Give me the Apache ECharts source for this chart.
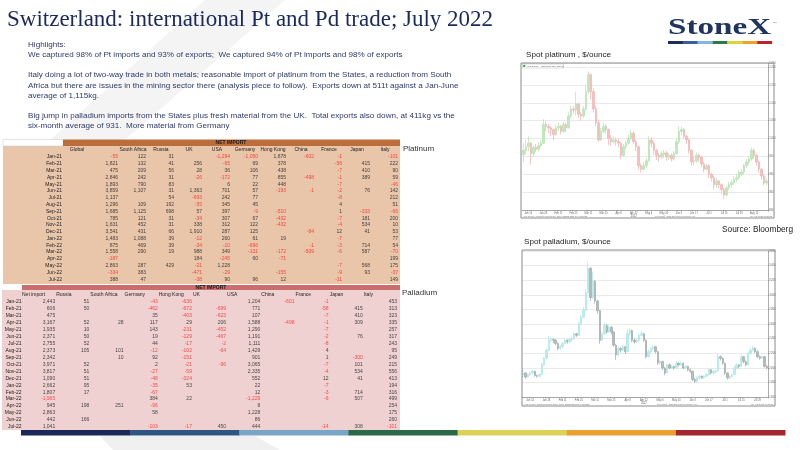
<!DOCTYPE html>
<html><head><meta charset="utf-8">
<script src="https://cdn.jsdelivr.net/npm/echarts@6/dist/echarts.min.js"></script>
<style>html,body{margin:0;padding:0;background:#fff}#c{width:800px;height:450px}</style>
</head><body><div id="c"></div>
<script>
// ---------- table data ----------
const months = ['Jan-21','Feb-21','Mar-21','Apr-21','May-21','Jun-21','Jul-21','Aug-21','Sep-21','Oct-21','Nov-21','Dec-21','Jan-22','Feb-22','Mar-22','Apr-22','May-22','Jun-22','Jul-22'];

// Platinum net import by partner (kg)
const ptHeaders = ['Global','South Africa','Russia','UK','USA','Germany','Hong Kong','China','France','Japan','Italy'];
const ptGlobal      = [-55,1821,475,2846,1893,3859,1137,1296,1685,785,1631,3541,1483,875,1558,-187,2863,-334,388];
const ptSouthAfrica = [122,132,209,242,790,1107,null,109,1125,121,452,431,1088,469,290,null,287,383,47];
const ptRussia      = [31,41,56,31,83,31,54,192,698,31,31,66,39,39,19,null,429,null,null];
const ptUK          = [null,256,28,-26,null,1363,-693,-55,57,-34,338,1910,-12,-34,988,184,-21,-471,-38];
const ptUSA         = [-1294,-65,36,-172,6,701,242,345,397,307,312,287,260,-10,349,-245,1228,-29,90];
const ptGermany     = [-1050,69,106,77,22,57,77,45,-9,67,122,125,61,-696,-131,60,null,null,96];
const ptHongKong    = [1878,378,438,855,448,-193,null,null,-510,-432,-432,null,19,null,-172,-71,null,-155,12];
const ptChina       = [-602,null,null,-498,null,-1,null,null,null,null,null,-84,null,-1,-509,null,null,null,null];
const ptFrance      = [-1,-58,-7,-1,-7,-2,-8,4,1,-7,-4,12,-7,-3,-6,null,-7,-9,-11];
const ptJapan       = [null,415,410,389,null,76,null,null,-333,181,534,41,null,714,587,null,568,93,null];
const ptItaly       = [-101,222,90,59,-46,142,212,51,-66,200,10,53,77,54,-70,199,175,-37,149];

// Palladium net import by partner (kg)
const pdHeaders = ['Net import','Russia','South Africa','Germany','Hong Kong','UK','USA','China','France','Japan','Italy'];
const pdNetImport   = [2443,606,475,3167,1935,2371,2755,2373,2342,3971,3817,1090,2662,1807,-1965,945,2863,442,1041];
const pdRussia      = [51,50,null,52,10,50,52,105,null,52,51,51,95,17,null,198,null,166,null];
const pdSouthAfrica = [null,null,null,28,null,null,null,101,10,null,null,null,null,null,null,251,null,null,null];
const pdGermany     = [-43,-462,35,117,143,19,44,-12,92,2,-27,-48,-35,-67,384,-96,58,null,-103];
const pdHongKong    = [-636,-672,-403,29,-231,-129,-17,-102,-151,-21,-59,-324,53,null,22,null,null,null,-17];
const pdUK          = [null,-699,-623,206,-452,-467,-2,-64,null,-96,null,null,null,null,null,null,null,null,450];
const pdUSA         = [1204,771,107,1588,1290,1191,1111,1429,901,3065,2335,552,22,12,-1229,8,1228,86,444];
const pdChina       = [-601,null,null,-498,null,null,null,null,null,null,null,null,null,null,null,null,null,null,null];
const pdFrance      = [-1,-58,-7,-1,-7,-2,-8,4,1,-7,-4,12,-7,-3,-6,null,null,null,-14];
const pdJapan       = [null,415,410,309,null,76,null,null,-300,101,534,41,null,714,507,null,null,null,308];
const pdItaly       = [453,313,323,335,257,317,243,95,249,215,556,413,194,316,499,254,175,260,-101];

// ---------- spot price candles [open, close, low, high] ----------
const ptSpot = [
[955,967,934,987],[967,977,955,996],[977,987,965,1006],[987,958,927,990],[958,975,950,982],[975,970,962,985],[970,980,965,990],[980,987,975,995],
[987,1039,985,1054],[1039,1034,1020,1048],[1034,1030,1015,1040],[1030,1025,1006,1035],[1025,1011,996,1028],[1011,1030,1008,1040],[1030,1034,1022,1045],[1034,1020,1012,1038],
[1020,1039,1016,1046],[1039,1030,1018,1044],[1030,1063,1028,1073],[1063,1083,1058,1092],[1083,1080,1070,1090],[1080,1097,1065,1131],[1097,1068,1058,1100],[1068,1063,1050,1075],
[1063,1083,1058,1092],[1083,1131,1080,1150],[1131,1179,1125,1188],[1179,1131,1110,1182],[1131,1083,1073,1140],[1083,1044,1034,1092],[1044,996,991,1054],[996,1020,994,1030],
[1020,1034,1015,1044],[1034,1025,1015,1040],[1025,1001,982,1028],[1001,991,980,1010],[991,996,985,1006],[996,991,980,1002],[991,987,975,998],[987,953,943,990],
[953,977,950,985],[977,987,970,995],[987,1001,982,1010],[1001,1015,996,1025],[1015,991,985,1020],[991,977,965,996],[977,924,914,980],[924,914,905,930],
[914,924,910,935],[924,938,918,945],[938,996,935,1006],[996,987,975,1004],[987,967,955,992],[967,953,940,972],[953,948,935,960],[948,958,942,965],
[955,960,945,968],[960,948,938,965],[948,953,940,960],[953,943,935,958],[943,958,938,965],[958,991,955,1000],[991,1020,985,1034],[1020,1025,1010,1034],
[1025,1006,1000,1030],[1006,996,985,1010],[996,967,958,1000],[967,934,924,970],[934,938,925,950],[938,953,932,960],[953,948,935,958],[948,929,920,952],
[929,914,905,935],[914,924,910,930],[924,900,890,928],[900,890,880,905],[890,871,857,895],[871,881,862,890],[881,871,860,885],[871,857,845,875],
[857,842,831,862],[842,862,838,868],[862,871,855,880],[871,876,862,885],[876,886,870,895],[886,890,878,900],[890,905,885,912],[900,906,895,915],
[906,924,900,930],[924,934,918,942],[934,943,928,950],[943,967,938,975],[967,953,945,972],[953,934,925,958],[934,914,905,938],[914,895,885,918],
[895,876,868,900],[876,881,870,888]
];
const pdSpot = [
[1900,1929,1860,1997],[1929,1875,1850,1940],[1875,1907,1860,1920],[1907,1929,1895,1945],[1929,1952,1915,1965],[1952,1893,1880,1960],[1893,1884,1865,1905],[1884,1907,1870,1920],
[1907,2041,1900,2080],[2041,2131,2030,2150],[2131,2243,2120,2260],[2243,2378,2230,2440],[2378,2387,2350,2420],[2387,2378,2340,2400],[2378,2333,2310,2390],[2333,2266,2240,2345],
[2266,2288,2250,2310],[2288,2333,2270,2350],[2333,2378,2320,2395],[2378,2355,2330,2390],[2355,2387,2340,2410],[2387,2400,2360,2430],[2400,2467,2390,2490],[2467,2445,2420,2480],
[2445,2602,2440,2630],[2602,2692,2590,2720],[2692,2790,2680,2830],[2790,3028,2780,3080],[3028,3364,3010,3454],[3364,2961,2920,3380],[2961,3185,2940,3319],[3185,2916,2880,3200],
[2916,2781,2740,2930],[2781,2378,2330,2790],[2378,2467,2360,2490],[2467,2579,2450,2620],[2579,2490,2470,2600],[2490,2557,2480,2580],[2557,2490,2460,2570],[2490,2310,2290,2500],
[2310,2176,2110,2330],[2176,2266,2160,2290],[2266,2243,2210,2280],[2243,2288,2230,2310],[2288,2221,2190,2300],[2221,2467,2210,2530],[2467,2512,2440,2540],[2512,2378,2350,2520],
[2378,2355,2330,2400],[2355,2378,2340,2400],[2378,2445,2370,2470],[2445,2467,2430,2500],[2467,2378,2360,2480],[2378,2153,2130,2390],[2153,2221,2140,2250],[2221,2266,2200,2290],
[2266,2288,2240,2310],[2288,2221,2200,2300],[2221,2064,2040,2230],[2064,2086,2040,2110],[2086,1997,1970,2100],[1997,1929,1900,2010],[1929,2041,1920,2060],[2041,1997,1980,2060],
[1997,2019,1985,2040],[2019,1997,1975,2030],[1997,2064,1990,2085],[2064,2041,2020,2075],[2041,2064,2030,2090],[2064,1997,1980,2075],[1997,2019,1990,2040],[2019,1974,1950,2030],
[1974,1952,1930,1990],[1952,1840,1820,1960],[1840,1817,1790,1860],[1817,1862,1805,1880],[1862,1884,1845,1900],[1884,1862,1850,1895],[1862,1884,1850,1900],[1884,1907,1870,1925],
[1907,1974,1895,1990],[1974,1929,1910,1985],[1929,1952,1915,1970],[1945,1958,1930,1975],[1958,2153,1950,2190],[2153,2131,2100,2170],[2131,2064,2040,2140],[2064,1929,1900,2070],
[1929,1862,1840,1940],[1862,1884,1845,1900],[1884,1907,1870,1920],[1907,1997,1900,2020],[1997,2041,1985,2060],[2041,2019,1990,2050],[2019,2153,2010,2180],[2153,2086,2060,2160],
[2086,2041,2020,2100],[2041,2198,2030,2220],[2198,2243,2180,2270],[2243,2266,2220,2300],[2266,2221,2200,2280],[2221,2153,2130,2240],[2153,2131,2110,2170],[2131,2153,2120,2170],
[2153,2019,2000,2160],[2019,1997,1980,2040]
];
const spotTickLabels = ['Jan 14','Jan 28','Feb 11','Feb 25','Mar 11','Mar 25','Apr 8','Apr 22\n2022','May 6','May 20','Jun 3','Jun 17','Jul 1','Jul 15','Jul 29','Aug 12','Aug 26'];

// ---------- helpers ----------
function fmt(v){
  const s = String(Math.abs(v)).replace(/\B(?=(\d{3})+(?!\d))/g, ',');
  return (v < 0 ? '-' : '') + s;
}
function tableData(cols, xShift){
  const out = [];
  cols.forEach((arr, c) => arr.forEach((v, r) => {
    if (v !== null) out.push({ value: [c + xShift, r, v], label: { color: v < 0 ? '#ff2626' : '#1a1a1a' } });
  }));
  return out;
}
const ptCols = [ptGlobal, ptSouthAfrica, ptRussia, ptUK, ptUSA, ptGermany, ptHongKong, ptChina, ptFrance, ptJapan, ptItaly];
const pdCols = [pdNetImport, pdRussia, pdSouthAfrica, pdGermany, pdHongKong, pdUK, pdUSA, pdChina, pdFrance, pdJapan, pdItaly];
// platinum: first column is two slots wide (header in slot 0, values in slot 1)
const ptXCats = [ptHeaders[0], ''].concat(ptHeaders.slice(1));
const pdHeaderCats = pdHeaders.concat(['']);

const PT = { left: 63, top: 153.6, width: 336, height: 129.1 };
const PD = { left: 22, top: 298.5, width: 376, height: 131.8 };
const ptHalf = PT.width / ptXCats.length / 2;
const pdHalf = PD.width / pdHeaders.length / 2;

const FONT = '"Liberation Sans", Arial, sans-serif';
const tableLabel = (half) => ({
  show: true, position: 'inside', align: 'right', verticalAlign: 'middle',
  offset: [half - 1, 0], fontSize: 5, fontFamily: FONT,
  formatter: p => fmt(p.value[2])
});

const barColors = ['#1c2759','#2f5585','#7aa6c6','#2b6a49','#dcd258','#e9a031','#a3282d'];
const logoColors = ['#1d2f54','#3c5ea0','#86b6e0','#2f7a4b','#d9d53e','#f0a227','#b8252f'];

const graphics = [];
// faint watermark shapes
graphics.push({ type: 'polygon', z: 0, shape: { points: [[205,0],[285,0],[125,140],[50,140]] }, style: { fill: '#f4f4f4' } });
graphics.push({ type: 'polygon', z: 0, shape: { points: [[100,436],[255,436],[280,450],[113,450]] }, style: { fill: '#f0f0f0' } });
// table backgrounds
graphics.push({ type: 'rect', z: 1, shape: { x: 3, y: 146, width: 397, height: 138 }, style: { fill: '#e9c5aa' } });
graphics.push({ type: 'rect', z: 1, shape: { x: 3, y: 139.5, width: 60, height: 6.5 }, style: { fill: '#ffffff', stroke: '#c9c9c9', lineWidth: 0.5 } });
graphics.push({ type: 'rect', z: 1, shape: { x: 63, y: 139.5, width: 337, height: 6.5 }, style: { fill: '#bc6e3a' } });
graphics.push({ type: 'text', z: 30, style: { text: 'NET IMPORT', x: 231, y: 142.9, font: 'bold 5px ' + FONT, fill: '#1a1a1a', textAlign: 'center', textVerticalAlign: 'middle' } });
graphics.push({ type: 'rect', z: 1, shape: { x: 2, y: 290, width: 398, height: 140 }, style: { fill: '#f0d1d1' } });
graphics.push({ type: 'rect', z: 1, shape: { x: 22, y: 285, width: 378, height: 5 }, style: { fill: '#cb6d6d' } });
graphics.push({ type: 'text', z: 30, style: { text: 'NET IMPORT', x: 211, y: 287.6, font: 'bold 5px ' + FONT, fill: '#1a1a1a', textAlign: 'center', textVerticalAlign: 'middle' } });
// bottom colour bar
barColors.forEach((c, i) => graphics.push({ type: 'rect', z: 2, shape: { x: 21 + i * 109.15, y: 430, width: 109.6, height: 5.5 }, style: { fill: c } }));
// logo
graphics.push({ type: 'text', z: 30, x: 668, y: 28, scaleX: 1.38, style: { text: 'StoneX', x: 0, y: 0, font: 'bold 24px "Liberation Serif", "Times New Roman", serif', fill: '#1f3560', textAlign: 'left', textVerticalAlign: 'middle' } });
graphics.push({ type: 'text', z: 30, style: { text: 'TM', x: 773, y: 21, font: '2.5px ' + FONT, fill: '#555' } });
logoColors.forEach((c, i) => graphics.push({ type: 'rect', z: 2, shape: { x: 668 + i * 14.86, y: 41, width: 15, height: 3 }, style: { fill: c } }));
// title + highlights
graphics.push({ type: 'text', z: 30, style: { text: 'Switzerland: international Pt and Pd trade; July 2022', x: 7, y: 19.5, font: '23px "Liberation Serif", "Times New Roman", serif', fill: '#1b2a5e', textVerticalAlign: 'middle' } });
const hl = [
  ['Highlights:', 45],
  ['We captured 98% of Pt imports and 93% of exports;  We captured 94% of Pt imports and 98% of exports', 55],
  ['Italy doing a lot of two-way trade in both metals; reasonable import of platinum from the States, a reduction from South', 75],
  ['Africa but there are issues in the mining sector there (analysis piece to follow).  Exports down at 511t against a Jan-June', 85.5],
  ['average of 1,115kg.', 96],
  ['Big jump in palladium imports from the States plus fresh material from the UK.  Total exports also down, at 411kg vs the', 116],
  ['six-month average of 931.  More material from Germany', 126]
];
hl.forEach(([t, y]) => graphics.push({ type: 'text', z: 30, style: { text: t, x: 28, y: y, font: '8.1px ' + FONT, fill: '#2e3a6c', textVerticalAlign: 'middle' } }));
// side labels
graphics.push({ type: 'text', z: 30, style: { text: 'Platinum', x: 403, y: 149, font: '8px ' + FONT, fill: '#333', textVerticalAlign: 'middle' } });
graphics.push({ type: 'text', z: 30, style: { text: 'Palladium', x: 402, y: 293, font: '8px ' + FONT, fill: '#333', textVerticalAlign: 'middle' } });
graphics.push({ type: 'text', z: 30, style: { text: 'Spot platinum , $/ounce', x: 526, y: 55, font: '8.1px ' + FONT, fill: '#222', textVerticalAlign: 'middle' } });
graphics.push({ type: 'text', z: 30, style: { text: 'Source: Bloomberg', x: 793, y: 230, font: '8.3px ' + FONT, fill: '#222', textAlign: 'right', textVerticalAlign: 'middle' } });
graphics.push({ type: 'text', z: 30, style: { text: 'Spot palladium, $/ounce', x: 524, y: 242, font: '8.1px ' + FONT, fill: '#222', textVerticalAlign: 'middle' } });
// Bloomberg chart frames and tiny annotations
graphics.push({ type: 'rect', z: 30, shape: { x: 521, y: 63, width: 253, height: 155 }, style: { fill: 'none', stroke: '#8a8a8a', lineWidth: 1 } });
graphics.push({ type: 'rect', z: 30, shape: { x: 522, y: 250, width: 253, height: 156 }, style: { fill: 'none', stroke: '#8a8a8a', lineWidth: 1 } });
graphics.push({ type: 'rect', z: 30, shape: { x: 522.5, y: 64, width: 41, height: 4 }, style: { fill: '#fff', stroke: '#aaa', lineWidth: 0.4 } });
graphics.push({ type: 'rect', z: 31, shape: { x: 523.3, y: 64.9, width: 2, height: 2 }, style: { fill: '#2aa02a' } });
graphics.push({ type: 'text', z: 31, style: { text: 'XPT Curncy - Last Price (R1) 889.30', x: 526.5, y: 66, font: '2.3px ' + FONT, fill: '#555', textVerticalAlign: 'middle' } });
graphics.push({ type: 'text', z: 31, style: { text: 'XPT Curncy (Platinum Spot $/Oz)  Daily 31DEC2021-30AUG2022', x: 523, y: 216.5, font: '2.2px ' + FONT, fill: '#777', textVerticalAlign: 'middle' } });
graphics.push({ type: 'text', z: 31, style: { text: 'Copyright© 2022 Bloomberg Finance L.P.', x: 655, y: 216.5, font: '2.2px ' + FONT, fill: '#777', textVerticalAlign: 'middle' } });
graphics.push({ type: 'text', z: 31, style: { text: '30-Aug-2022 10:20:22', x: 772, y: 216.5, font: '2.2px ' + FONT, fill: '#777', textAlign: 'right', textVerticalAlign: 'middle' } });
graphics.push({ type: 'text', z: 31, style: { text: 'XPD Curncy (Palladium Spot $/Oz)  Daily 31DEC2021-30AUG2022', x: 524, y: 404, font: '2.2px ' + FONT, fill: '#777', textVerticalAlign: 'middle' } });
graphics.push({ type: 'text', z: 31, style: { text: 'Copyright© 2022 Bloomberg Finance L.P.', x: 657, y: 404, font: '2.2px ' + FONT, fill: '#777', textVerticalAlign: 'middle' } });
graphics.push({ type: 'text', z: 31, style: { text: '30-Aug-2022 10:20:22', x: 773, y: 404, font: '2.2px ' + FONT, fill: '#777', textAlign: 'right', textVerticalAlign: 'middle' } });

const hidden = { axisLine: { show: false }, axisTick: { show: false }, splitLine: { show: false } };
const spotX = (data, grid, step, off) => ({
  type: 'category', gridIndex: grid, data: data.map((d, i) => i), boundaryGap: true,
  axisLine: { show: true, lineStyle: { color: '#777', width: 0.6 } },
  axisTick: { show: true, length: 1.5, interval: (i) => i % step === off, lineStyle: { color: '#777', width: 0.5 } },
  axisLabel: { fontSize: 2.6, color: '#666', margin: 1.5, lineHeight: 3,
    interval: (i) => i % step === off,
    formatter: (v, i) => spotTickLabels[Math.floor(i / step)] || '' },
  splitLine: { show: false }
});
const spotY = (grid, min, max, interval) => ({
  type: 'value', gridIndex: grid, position: 'right', min: min, max: max, interval: interval, scale: true,
  axisLine: { show: true, lineStyle: { color: '#777', width: 0.6 } },
  axisTick: { show: true, length: 1.2, lineStyle: { color: '#777', width: 0.5 } },
  axisLabel: { fontSize: 2.6, color: '#666', margin: 1.2 },
  splitLine: { show: true, lineStyle: { color: '#e4e4e4', width: 0.8 } }
});

const option = {
  animation: false,
  backgroundColor: '#ffffff',
  textStyle: { fontFamily: FONT },
  graphic: { elements: graphics },
  grid: [
    { left: PT.left, top: PT.top, width: PT.width, height: PT.height },
    { left: PD.left, top: PD.top, width: PD.width, height: PD.height },
    { left: 522, top: 63.5, width: 246, height: 146.5 },
    { left: 522, top: 251, width: 246, height: 146 }
  ],
  xAxis: [
    Object.assign({ type: 'category', gridIndex: 0, data: ptXCats, position: 'top', z: 20,
      axisLabel: { fontSize: 5, color: '#222', margin: 1.5, interval: 0, fontFamily: FONT } }, hidden),
    Object.assign({ type: 'category', gridIndex: 1, data: pdHeaderCats, position: 'top', boundaryGap: false, z: 20,
      axisLabel: { fontSize: 5, color: '#222', margin: 1.5, interval: 0, align: 'left', fontFamily: FONT } }, hidden),
    Object.assign({ type: 'category', gridIndex: 1, data: pdHeaders, show: false }, hidden),
    spotX(ptSpot, 2, 6, 2),
    spotX(pdSpot, 3, 7, 3)
  ],
  yAxis: [
    Object.assign({ type: 'category', gridIndex: 0, data: months, inverse: true, z: 20,
      axisLabel: { fontSize: 5, color: '#222', margin: 1, interval: 0, fontFamily: FONT } }, hidden),
    Object.assign({ type: 'category', gridIndex: 1, data: months, inverse: true, z: 20,
      axisLabel: { fontSize: 5, color: '#222', margin: 0.5, interval: 0, fontFamily: FONT } }, hidden),
    spotY(2, 800, 1210, 50),
    spotY(3, 1600, 3600, 200)
  ],
  series: [
    { type: 'scatter', name: 'Platinum', xAxisIndex: 0, yAxisIndex: 0, z: 20, silent: true,
      symbolSize: 1, itemStyle: { color: 'rgba(0,0,0,0)' },
      label: tableLabel(ptHalf), data: tableData(ptCols, 1) },
    { type: 'scatter', name: 'Palladium', xAxisIndex: 2, yAxisIndex: 1, z: 20, silent: true,
      symbolSize: 1, itemStyle: { color: 'rgba(0,0,0,0)' },
      label: tableLabel(pdHalf), data: tableData(pdCols, 0) },
    { type: 'candlestick', name: 'XPT', xAxisIndex: 3, yAxisIndex: 2, z: 10, silent: true,
      barMaxWidth: 2.2, barWidth: '80%', data: ptSpot,
      itemStyle: { color: '#c2e9bd', color0: '#f7c1c1', borderColor: '#b2e2ac', borderColor0: '#f3b0b0', borderWidth: 0.7 } },
    { type: 'candlestick', name: 'XPD', xAxisIndex: 4, yAxisIndex: 3, z: 10, silent: true,
      barMaxWidth: 2.2, barWidth: '80%', data: pdSpot,
      itemStyle: { color: '#bdeeee', color0: '#b4bbbb', borderColor: '#a8e6e6', borderColor0: '#a0a9a9', borderWidth: 0.7 } }
  ]
};
const chart = echarts.init(document.getElementById('c'), null, { renderer: 'canvas' });
chart.setOption(option);
</script>
</body></html>
